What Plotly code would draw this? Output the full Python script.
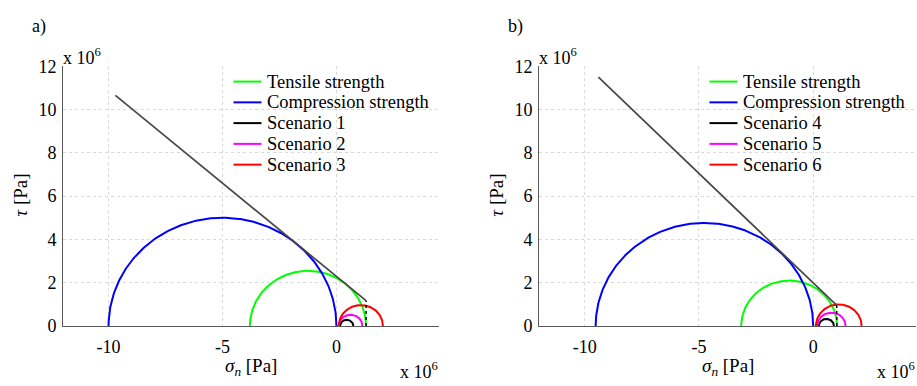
import numpy as np
import plotly.graph_objects as go

# Mohr circles (values in units of 1e6 Pa): centre and radius of each circle
circle_colors = ["#00ff00", "#0000ff", "#000000", "#ff00ff", "#ff0000"]

a_names = ["Tensile strength", "Compression strength", "Scenario 1", "Scenario 2", "Scenario 3"]
a_centers = [-1.25, -5.00, 0.45, 0.62, 1.07]
a_radii = [2.55, 5.00, 0.29, 0.52, 0.97]
# Failure envelope and tension cut-off
a_env_sigma = [-9.70, 1.30]
a_env_tau = [10.65, 1.17]

b_names = ["Tensile strength", "Compression strength", "Scenario 4", "Scenario 5", "Scenario 6"]
b_centers = [-1.05, -4.76, 0.58, 0.80, 1.12]
b_radii = [2.10, 4.76, 0.33, 0.62, 1.00]
b_env_sigma = [-9.40, 1.03]
b_env_tau = [11.50, 0.95]

x_ticks = [-10, -5, 0]
x_ticklabels = ["-10", "-5", "0"]
y_ticks = [0, 2, 4, 6, 8, 10, 12]

W, H = 917, 386
FONT = "Liberation Serif, Times New Roman, DejaVu Serif, serif"

def px(x):
    return x / W

def py(y):
    return 1 - y / H

# plot-area pixel boxes (left, right) for each panel, shared top/bottom
panels = [
    dict(names=a_names, centers=a_centers, radii=a_radii,
         env_s=a_env_sigma, env_t=a_env_tau, left=63, right=439, label="a)"),
    dict(names=b_names, centers=b_centers, radii=b_radii,
         env_s=b_env_sigma, env_t=b_env_tau, left=539, right=916, label="b)"),
]
TOP, BOTTOM = 59.3, 333.3

fig = go.Figure()
theta = np.linspace(0, np.pi, 241)
annotations = []
shapes = []

for i, p in enumerate(panels, start=1):
    xa = "x" if i == 1 else f"x{i}"
    ya = "y" if i == 1 else f"y{i}"
    for name, c, r, col in zip(p["names"], p["centers"], p["radii"], circle_colors):
        fig.add_trace(go.Scatter(
            x=c + r * np.cos(theta), y=r * np.sin(theta), mode="lines",
            line=dict(color=col, width=2), name=name, showlegend=False,
            xaxis=xa, yaxis=ya, hoverinfo="skip"))
    # Mohr-Coulomb envelope
    fig.add_trace(go.Scatter(
        x=p["env_s"], y=p["env_t"], mode="lines",
        line=dict(color="#474747", width=1.7), showlegend=False,
        xaxis=xa, yaxis=ya, hoverinfo="skip"))
    # tension cut-off
    fig.add_trace(go.Scatter(
        x=[p["env_s"][-1], p["env_s"][-1]], y=[0, p["env_t"][-1]], mode="lines",
        line=dict(color="#000000", width=1.5, dash="dot"), showlegend=False,
        xaxis=xa, yaxis=ya, hoverinfo="skip"))

    axis_common = dict(
        showgrid=True, gridcolor="#dadada", griddash="dot", gridwidth=1,
        showline=True, linecolor="#5a5a5a", linewidth=1, zeroline=False,
        ticks="", tickfont=dict(family=FONT, size=18, color="black"),
    )
    dom_x = [px(p["left"]), px(p["right"])]
    dom_y = [py(BOTTOM), py(TOP)]
    key_x = "xaxis" if i == 1 else f"xaxis{i}"
    key_y = "yaxis" if i == 1 else f"yaxis{i}"
    fig.update_layout({
        key_x: dict(domain=dom_x, range=[-12, 4.5], tickvals=x_ticks,
                    ticktext=x_ticklabels, ticklabelstandoff=4,
                    anchor=ya, **axis_common),
        key_y: dict(domain=dom_y, range=[0, 12], tickvals=y_ticks,
                    ticklabelstandoff=2, anchor=xa, **axis_common),
    })

    L, R = p["left"], p["right"]
    cx = (L + R) / 2
    cy = (TOP + BOTTOM) / 2
    txt = dict(family=FONT, size=18, color="black")
    # panel label
    annotations.append(dict(text=p["label"], x=px(L - 33), y=py(17), xref="paper", yref="paper",
                            xanchor="left", yanchor="middle", showarrow=False, font=txt))
    # axis titles
    annotations.append(dict(text="<i>σ</i><sub><i>n</i></sub> [Pa]", x=px(cx), y=py(377),
                            xref="paper", yref="paper", xanchor="center", yanchor="middle",
                            showarrow=False, font=dict(family=FONT, size=19, color="black")))
    annotations.append(dict(text="<i>τ</i> [Pa]", x=px(L - 42.5), y=py(cy - 1),
                            xref="paper", yref="paper", xanchor="center", yanchor="middle",
                            textangle=-90, showarrow=False,
                            font=dict(family=FONT, size=19, color="black")))
    # exponent labels
    annotations.append(dict(text="x 10<sup>6</sup>", x=px(L - 2), y=py(49),
                            xref="paper", yref="paper", xanchor="left", yanchor="middle",
                            showarrow=False, font=txt))
    annotations.append(dict(text="x 10<sup>6</sup>", x=px(R + 1), y=py(380),
                            xref="paper", yref="paper", xanchor="right", yanchor="middle",
                            showarrow=False, font=txt))
    # key
    key_x0 = L + 170.5
    for k, (name, col) in enumerate(zip(p["names"], circle_colors)):
        yk = 75.5 + 21.9 * k
        shapes.append(dict(type="line", xref="paper", yref="paper",
                           x0=px(key_x0), x1=px(key_x0 + 28), y0=py(yk), y1=py(yk),
                           line=dict(color=col, width=2)))
        annotations.append(dict(text=name, x=px(key_x0 + 31), y=py(yk), xref="paper",
                                yref="paper", xanchor="left", yanchor="middle",
                                showarrow=False, font=dict(family=FONT, size=18.5, color="black")))

fig.update_layout(
    width=W, height=H, autosize=False,
    margin=dict(l=0, r=0, t=0, b=0),
    paper_bgcolor="white", plot_bgcolor="white",
    showlegend=False,
    annotations=annotations, shapes=shapes,
    font=dict(family=FONT, color="black"),
)

fig.write_html("out.html")
